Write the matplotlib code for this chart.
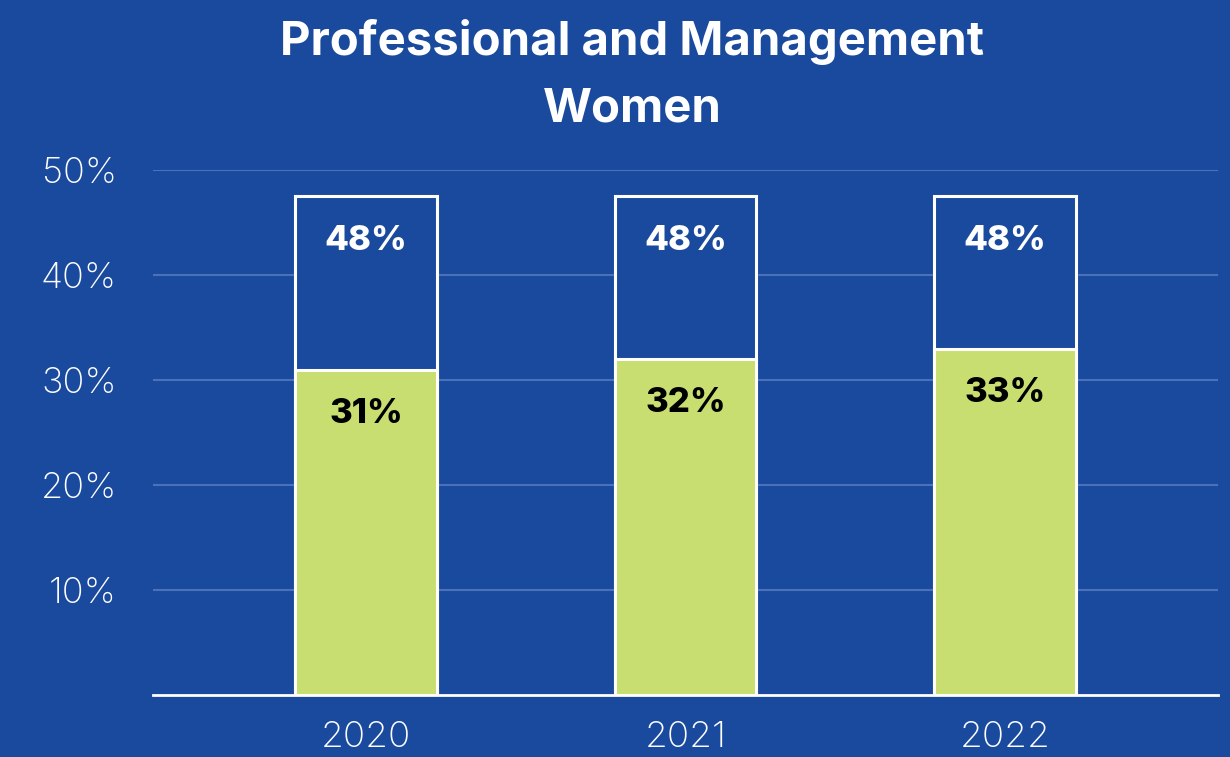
import numpy as np
import matplotlib.pyplot as plt

years = ['2020', '2021', '2022']
women_pct = [31, 32, 33]
total_pct = [47.5, 47.5, 47.5]
yticks = [10, 20, 30, 40, 50]

bg = '#1a4a9e'
green = '#c8de70'
grid_col = '#4a72bb'

plt.rcParams['font.family'] = ['Inter', 'DejaVu Sans']

fig = plt.figure(figsize=(12.3, 7.57), dpi=100)
fig.patch.set_facecolor(bg)
ax = fig.add_axes([153/1230, 62/757, 1065/1230, 525/757])
ax.set_facecolor(bg)

x = np.arange(len(years))
w = 0.444
ax.bar(x, total_pct, w, color=bg, edgecolor='white', linewidth=2.2, zorder=3)
ax.bar(x, women_pct, w, color=green, edgecolor='white', linewidth=2.2, zorder=4)

for xi, t, v in zip(x, total_pct, women_pct):
    ax.text(xi, t - 4.3, f'{t:.0f}%', ha='center', va='center', color='white',
            fontsize=25, fontweight='heavy', zorder=5)
    ax.text(xi, v - 4.2, f'{v}%', ha='center', va='center', color='black',
            fontsize=25, fontweight='heavy', zorder=5)

ax.set_xlim(-0.667, 2.667)
ax.set_ylim(0, 50)
ax.set_yticks(yticks)
ax.set_yticklabels([f'{t}%' for t in yticks])
ax.set_xticks(x)
ax.set_xticklabels(years)
ax.grid(axis='y', color=grid_col, linewidth=1.5, zorder=0)
ax.tick_params(axis='both', length=0, colors='white', labelsize=26)
ax.tick_params(axis='y', pad=26)
ax.tick_params(axis='x', labelsize=26.5, pad=19)
for lab in ax.get_xticklabels() + ax.get_yticklabels():
    lab.set_fontweight('light')
for s in ['top', 'right', 'left']:
    ax.spines[s].set_visible(False)
ax.spines['bottom'].set_color('white')
ax.spines['bottom'].set_linewidth(2)
ax.spines['bottom'].set_zorder(6)

fig.text(0.514, 0.945, 'Professional and Management', ha='center', va='center',
         color='white', fontsize=34, fontweight='bold')
fig.text(0.514, 0.856, 'Women', ha='center', va='center',
         color='white', fontsize=34, fontweight='bold')

fig.savefig('out.png', dpi=100, facecolor=bg)
